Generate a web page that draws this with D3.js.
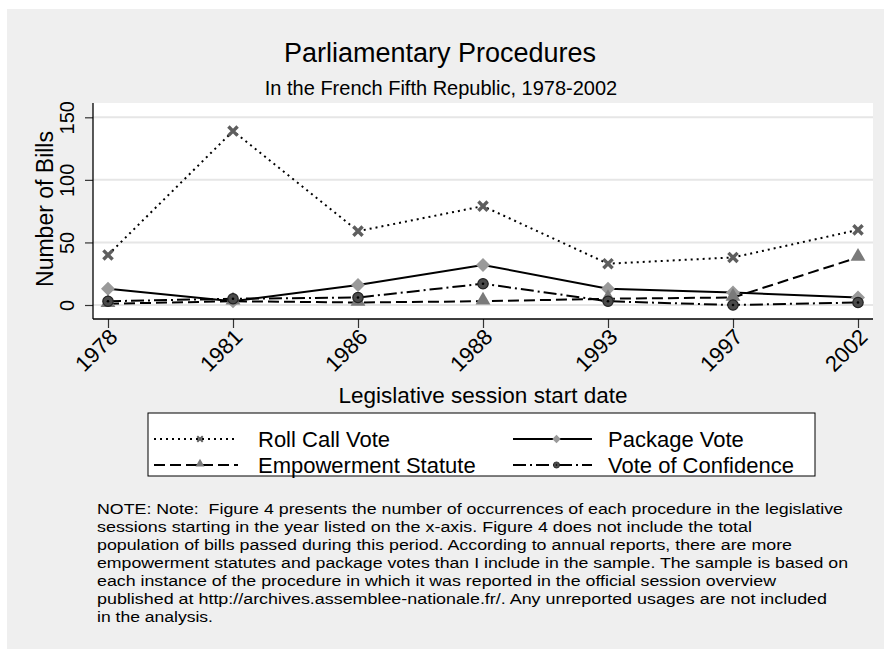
<!DOCTYPE html>
<html>
<head>
<meta charset="utf-8">
<script src="https://cdn.jsdelivr.net/npm/d3@7"></script>
<style>
  html, body { margin: 0; padding: 0; background: #ffffff; }
  svg { display: block; }
  text { font-family: "Liberation Sans", Arial, Helvetica, sans-serif; fill: #000; }
</style>
</head>
<body>
<svg id="chart" width="884" height="649"></svg>
<script>
// Legislative sessions (x-axis categories)
const years = ["1978", "1981", "1986", "1988", "1993", "1997", "2002"];

// Number of bills per procedure
const rollCallVote       = [40, 139, 59, 79, 33, 38, 60];
const packageVote        = [13, 3, 16, 32, 13, 10, 6];
const empowermentStatute = [1, 3, 2, 3, 5, 6, 38];
const voteOfConfidence   = [3, 5, 6, 17, 3, 0, 2];

const yTicks = [0, 50, 100, 150];

const titleText = "Parliamentary Procedures";
const subtitleText = "In the French Fifth Republic, 1978-2002";
const yTitle = "Number of Bills";
const xTitle = "Legislative session start date";

const noteLines = [
  "NOTE: Note:  Figure 4 presents the number of occurrences of each procedure in the legislative",
  "sessions starting in the year listed on the x-axis. Figure 4 does not include the total",
  "population of bills passed during this period. According to annual reports, there are more",
  "empowerment statutes and package votes than I include in the sample. The sample is based on",
  "each instance of the procedure in which it was reported in the official session overview",
  "published at http://archives.assemblee-nationale.fr/. Any unreported usages are not included",
  "in the analysis."
];
// rendered width of each note line
const noteWidths = [746, 655, 695, 751, 679, 730, 116];

const series = [
  { name: "Roll Call Vote",      values: rollCallVote,       dash: "2,4",        marker: "x" },
  { name: "Package Vote",        values: packageVote,        dash: null,         marker: "diamond" },
  { name: "Empowerment Statute", values: empowermentStatute, dash: "11,5",       marker: "triangle" },
  { name: "Vote of Confidence",  values: voteOfConfidence,   dash: "13,4,2,4",   marker: "circle" }
];

const svg = d3.select("#chart");

// Outer graph region
svg.append("rect").attr("x", 7).attr("y", 9).attr("width", 877).attr("height", 640)
  .attr("fill", "#efefef");

const plot = { left: 93, right: 873, top: 103, bottom: 319 };

const x = d3.scalePoint().domain(years).range([plot.left, plot.right]).padding(0.12);
const y = d3.scaleLinear().domain([0, 150]).range([305, 117.3]);

// Plot region
svg.append("rect")
  .attr("x", plot.left).attr("y", plot.top)
  .attr("width", plot.right - plot.left).attr("height", plot.bottom - plot.top)
  .attr("fill", "#ffffff");

// Horizontal grid lines
svg.append("g").selectAll("line").data(yTicks).join("line")
  .attr("x1", plot.left).attr("x2", plot.right)
  .attr("y1", d => y(d)).attr("y2", d => y(d))
  .attr("stroke", "#e6e6e6").attr("stroke-width", 2);

// Y axis
const yAxis = svg.append("g").attr("transform", `translate(${plot.left},0)`)
  .call(d3.axisLeft(y).tickValues(yTicks).tickSize(8).tickPadding(0).tickFormat(d3.format("d")));
yAxis.select(".domain").remove();
yAxis.selectAll(".tick line").attr("stroke", "#333").attr("stroke-width", 1.2);
yAxis.selectAll(".tick text")
  .attr("transform", "translate(-26,0) rotate(-90)")
  .attr("x", 0).attr("y", 0).attr("dy", "0.35em")
  .attr("text-anchor", "middle")
  .style("font-size", "20px").style("font-family", "'Liberation Sans', Arial, sans-serif");

svg.append("line").attr("x1", plot.left).attr("x2", plot.left)
  .attr("y1", plot.top).attr("y2", plot.bottom).attr("stroke", "#000").attr("stroke-width", 1.3);

// X axis
const xAxis = svg.append("g").attr("transform", `translate(0,${plot.bottom})`)
  .call(d3.axisBottom(x).tickSize(9).tickPadding(0));
xAxis.select(".domain").remove();
xAxis.selectAll(".tick line").attr("stroke", "#333").attr("stroke-width", 1.2);
xAxis.selectAll(".tick text")
  .attr("transform", "translate(5,14) rotate(-45)")
  .attr("x", 0).attr("y", 0).attr("dy", "0.35em")
  .attr("text-anchor", "end")
  .style("font-size", "22px").style("font-family", "'Liberation Sans', Arial, sans-serif");

svg.append("line").attr("x1", plot.left).attr("x2", plot.right)
  .attr("y1", plot.bottom).attr("y2", plot.bottom).attr("stroke", "#000").attr("stroke-width", 1.3);

// Marker shapes
function drawMarker(g, type, cx, cy, s) {
  if (type === "x") {
    const r = 4.6 * s;
    g.append("path")
      .attr("d", `M${cx - r},${cy - r}L${cx + r},${cy + r}M${cx - r},${cy + r}L${cx + r},${cy - r}`)
      .attr("stroke", "#5e5e5e").attr("stroke-width", 3.4 * s).attr("fill", "none");
  } else if (type === "diamond") {
    const r = 7 * s;
    g.append("path")
      .attr("d", `M${cx},${cy - r}L${cx + r},${cy}L${cx},${cy + r}L${cx - r},${cy}Z`)
      .attr("fill", "#9a9a9a");
  } else if (type === "triangle") {
    g.append("path")
      .attr("d", d3.symbol().type(d3.symbolTriangle).size(95 * s * s)())
      .attr("transform", `translate(${cx},${cy - 1})`)
      .attr("fill", "#7a7a7a");
  } else if (type === "circle") {
    g.append("circle").attr("cx", cx).attr("cy", cy).attr("r", 5.2 * s)
      .attr("fill", "#4a4a4a").attr("stroke", "#222").attr("stroke-width", 1.2 * s);
    g.append("circle").attr("cx", cx).attr("cy", cy).attr("r", 1.3 * s).attr("fill", "#000");
  }
}

const line = d3.line().x((d, i) => x(years[i])).y(d => y(d));

series.forEach(s => {
  const g = svg.append("g");
  g.append("path").datum(s.values).attr("d", line)
    .attr("fill", "none").attr("stroke", "#000").attr("stroke-width", 2)
    .attr("stroke-dasharray", s.dash);
  s.values.forEach((v, i) => drawMarker(g, s.marker, x(years[i]), y(v), 1));
});

// Titles
svg.append("text").attr("x", 440).attr("y", 62).attr("text-anchor", "middle")
  .style("font-size", "27px").text(titleText);
svg.append("text").attr("x", 441).attr("y", 95).attr("text-anchor", "middle")
  .style("font-size", "20px").text(subtitleText);

svg.append("text")
  .attr("transform", `translate(53,${(plot.top + plot.bottom) / 2 - 2}) rotate(-90)`)
  .attr("text-anchor", "middle").style("font-size", "23px").text(yTitle);

svg.append("text").attr("x", (plot.left + plot.right) / 2).attr("y", 403)
  .attr("text-anchor", "middle").style("font-size", "22.5px").text(xTitle);

// Legend
const legend = svg.append("g");
legend.append("rect").attr("x", 148).attr("y", 413).attr("width", 667).attr("height", 63)
  .attr("fill", "#fff").attr("stroke", "#000").attr("stroke-width", 1);

const legendPos = [
  { x0: 154, x1: 238, tx: 258, y: 439 },
  { x0: 513, x1: 592, tx: 608, y: 439 },
  { x0: 154, x1: 238, tx: 258, y: 465 },
  { x0: 513, x1: 592, tx: 608, y: 465 }
];
series.forEach((s, i) => {
  const p = legendPos[i];
  legend.append("line").attr("x1", p.x0).attr("x2", p.x1).attr("y1", p.y).attr("y2", p.y)
    .attr("stroke", "#000").attr("stroke-width", 2).attr("stroke-dasharray", s.dash);
  drawMarker(legend, s.marker, (p.x0 + p.x1) / 2 + 4, p.y, 0.6);
  legend.append("text").attr("x", p.tx).attr("y", p.y).attr("dy", "0.36em")
    .style("font-size", "22px").text(s.name);
});

// Note (keeps the double space after "Note:")
svg.append("g").selectAll("text").data(noteLines).join("text")
  .attr("x", 97).attr("y", (d, i) => 514 + i * 18)
  .attr("textLength", (d, i) => noteWidths[i]).attr("lengthAdjust", "spacingAndGlyphs")
  .style("white-space", "pre")
  .style("font-size", "15.5px").text(d => d);
</script>
</body>
</html>
